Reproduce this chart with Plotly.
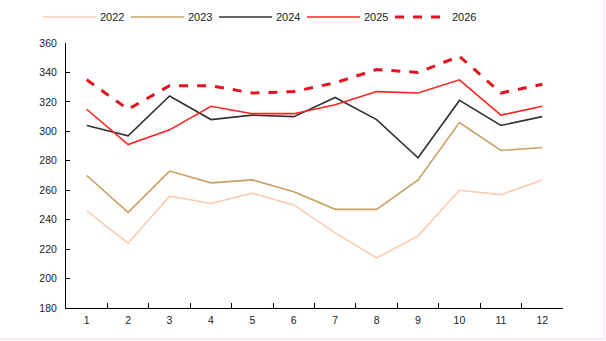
import plotly.graph_objects as go

months = ["1", "2", "3", "4", "5", "6", "7", "8", "9", "10", "11", "12"]
s2022 = [246, 224, 256, 251, 258, 250, 231, 214, 229, 260, 257, 267]
s2023 = [270, 245, 273, 265, 267, 259, 247, 247, 267, 306, 287, 289]
s2024 = [304, 297, 324, 308, 311, 310, 323, 308, 282, 321, 304, 310]
s2025 = [315, 291, 301, 317, 312, 312, 318, 327, 326, 335, 311, 317]
s2026 = [335, 315, 331, 331, 326, 327, 333, 342, 340, 351, 326, 332]
names = ["2022", "2023", "2024", "2025", "2026"]
y_ticks = [180, 200, 220, 240, 260, 280, 300, 320, 340, 360]

series = [s2022, s2023, s2024, s2025, s2026]
colors = ["#f8cbb2", "#c9a062", "#333333", "#ff2222", "#e3141f"]
widths = [1.6, 1.6, 1.6, 1.6, 3]
dashes = ["solid", "solid", "solid", "solid", "dash"]

fig = go.Figure()
for name, ys, c, w, d in zip(names, series, colors, widths, dashes):
    fig.add_trace(go.Scatter(x=months, y=ys, name=name, mode="lines",
                             line=dict(color=c, width=w, dash=d),
                             showlegend=False))

L, R, T, B = 66, 43, 43, 33
W, H = 606, 341
pw, ph = W - L - R, H - T - B

def px_x(px):
    return (px - L) / pw

def px_y(py):
    return (H - B - py) / ph

shapes = []
annotations = []
for i, (name, c, w, d) in enumerate(zip(names, colors, widths, dashes)):
    x0 = 43 + 88 * i
    x1 = x0 + 53
    shapes.append(dict(type="line", xref="paper", yref="paper",
                       x0=px_x(x0), x1=px_x(x1), y0=px_y(17), y1=px_y(17),
                       line=dict(color=c, width=w, dash=("dash" if d == "dash" else "solid"))))
    annotations.append(dict(text=name, xref="paper", yref="paper",
                            x=px_x(x1 + 2), y=px_y(17), xanchor="left", yanchor="middle",
                            showarrow=False, font=dict(size=11, color="#222222")))

# light page border at right and bottom
shapes.append(dict(type="line", xref="paper", yref="paper",
                   x0=px_x(604.5), x1=px_x(604.5), y0=px_y(0), y1=px_y(339),
                   line=dict(color="#f8e4f8", width=1.5)))
shapes.append(dict(type="line", xref="paper", yref="paper",
                   x0=px_x(0), x1=px_x(605), y0=px_y(339), y1=px_y(339),
                   line=dict(color="#f8e4f8", width=1.5)))

fig.update_layout(
    width=W, height=H,
    margin=dict(l=L, r=R, t=T, b=B),
    paper_bgcolor="white", plot_bgcolor="white",
    font=dict(family="Liberation Sans, Arial, sans-serif", size=10.5, color="#222222"),
    shapes=shapes, annotations=annotations,
    xaxis=dict(type="category", range=[-0.5, 11.5], tickson="boundaries",
               ticks="inside", ticklen=5,
               tickcolor="black", showline=True, linecolor="black", linewidth=1,
               showgrid=False, zeroline=False, ticklabelstandoff=2),
    yaxis=dict(range=[180, 360], tickvals=y_ticks, ticks="inside", ticklen=4,
               tickcolor="black", showline=True, linecolor="black", linewidth=1,
               showgrid=False, zeroline=False, ticklabelstandoff=6),
)

fig.write_html("out.html")
